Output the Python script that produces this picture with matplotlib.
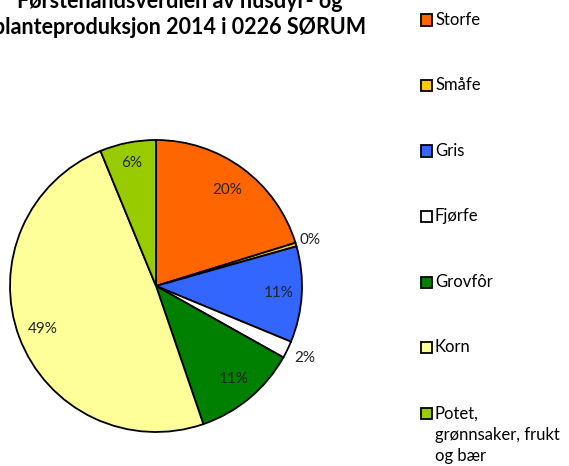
import numpy as np
import matplotlib
matplotlib.use("Agg")
import matplotlib.pyplot as plt
from matplotlib.patches import Rectangle

plt.rcParams['font.family'] = ['Lato', 'DejaVu Sans']

# data (percent of total value)
categories = ["Storfe", "Småfe", "Gris", "Fjørfe", "Grovfôr", "Korn",
              "Potet,\ngrønnsaker, frukt\nog bær"]
shares = [20.2, 0.4, 10.6, 1.9, 11.6, 49.0, 6.2]
pct_labels = ["20%", "0%", "11%", "2%", "11%", "49%", "6%"]
colours = ["#FF6600", "#FFCC00", "#3366FF", "#FFFFFF", "#008000", "#FFFF99", "#99CC00"]
label_dist = [0.82, 1.10, 0.84, 1.13, 0.83, 0.83, 0.86]

W, H = 569, 466
fig = plt.figure(figsize=(W / 100, H / 100), dpi=100)

# pie centre at (156, 286) px, radius 146 px
cx, cy, r = 156, 286, 146
ax = fig.add_axes([(cx - r) / W, (H - cy - r) / H, 2 * r / W, 2 * r / H])
wedges, _ = ax.pie(shares, colors=colours, startangle=90, counterclock=False,
                   radius=1, wedgeprops=dict(edgecolor="black", linewidth=1.3))
ax.set_xlim(-1, 1)
ax.set_ylim(-1, 1)
ax.set_aspect("equal")
ax.axis("off")

for w, txt, d in zip(wedges, pct_labels, label_dist):
    mid = np.deg2rad((w.theta1 + w.theta2) / 2)
    ax.text(d * np.cos(mid), d * np.sin(mid), txt, ha="center", va="center",
            fontsize=11, color="#222222")

# title, clipped at the top and left like the reference
fig.text(180 / W, 1 - 8 / H, "Førstehandsverdien av husdyr- og",
         ha="center", va="baseline", fontsize=15.5, fontweight="bold")
fig.text(180 / W, 1 - 34 / H, "planteproduksjon 2014 i 0226 SØRUM",
         ha="center", va="baseline", fontsize=15.5, fontweight="bold")

# legend on the right
lx, ly0, step, sz = 421, 20, 65.5, 11
for i, (name, col) in enumerate(zip(categories, colours)):
    y = ly0 + i * step
    fig.add_artist(Rectangle((lx / W, 1 - (y + sz / 2) / H), sz / W, sz / H,
                             transform=fig.transFigure, facecolor=col,
                             edgecolor="black", linewidth=1.3))
    if "\n" in name:
        fig.text((lx + sz + 3) / W, 1 - (y - 7) / H, name, ha="left", va="top",
                 fontsize=12, linespacing=1.4)
    else:
        fig.text((lx + sz + 3) / W, 1 - y / H, name, ha="left", va="center",
                 fontsize=12)

fig.savefig("out.png", dpi=100)
